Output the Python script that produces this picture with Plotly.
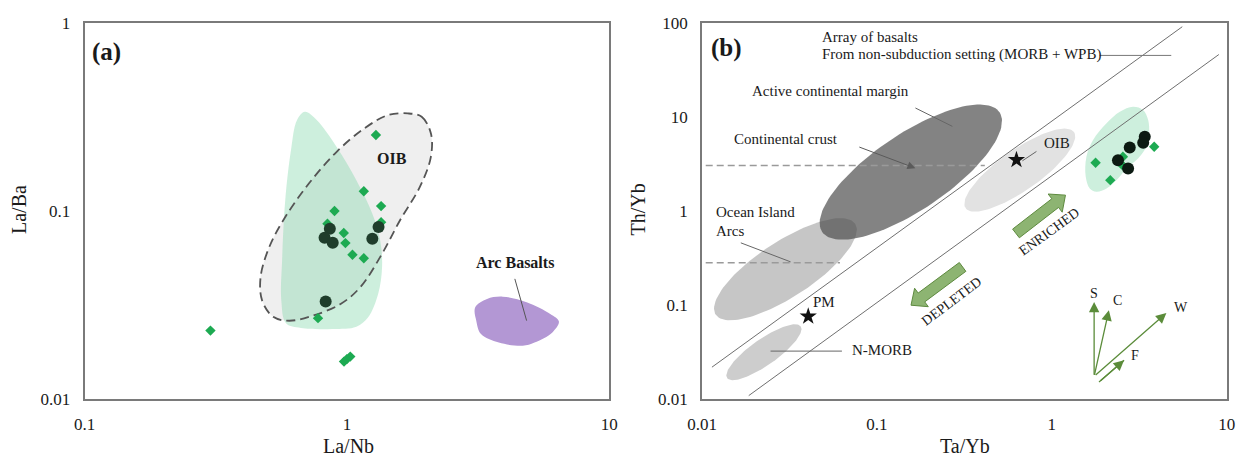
import numpy as np
import plotly.graph_objects as go

FONT = "Liberation Serif"
W, H = 1241, 459
TXT = "#1a1a1a"

# ---------------- Panel (a): La/Nb vs La/Ba ----------------
a_black_x = [0.861, 0.822, 0.883, 1.32, 1.25, 0.83]
a_black_y = [0.0804, 0.0719, 0.0676, 0.082, 0.071, 0.033]
a_green_x = [1.29, 1.16, 1.35, 0.897, 0.843, 1.35, 0.973, 0.987, 1.05, 1.16, 0.776, 0.302, 0.975, 1.0, 1.03]
a_green_y = [0.253, 0.127, 0.106, 0.0998, 0.0855, 0.0871, 0.0762, 0.0674, 0.0584, 0.056, 0.0269, 0.0231, 0.0158, 0.0163, 0.0168]

# field outlines (log10 units)
a_sample_field_lx = [-0.160, -0.115, -0.039, 0.036, 0.097, 0.127, 0.134, 0.119, 0.081, 0.036, -0.054, -0.175, -0.232, -0.250, -0.247, -0.235, -0.213, -0.190, -0.160]
a_sample_field_ly = [-0.473, -0.517, -0.660, -0.837, -1.015, -1.157, -1.300, -1.442, -1.566, -1.616, -1.628, -1.623, -1.598, -1.477, -1.264, -0.944, -0.677, -0.517, -0.473]
a_oib_field_lx = [0.232, 0.285, 0.320, 0.320, 0.278, 0.202, 0.134, 0.051, -0.024, -0.130, -0.220, -0.281, -0.323, -0.329, -0.296, -0.235, -0.145, -0.039, 0.066, 0.157, 0.232]
a_oib_field_ly = [-0.482, -0.500, -0.588, -0.713, -0.873, -1.051, -1.228, -1.406, -1.495, -1.557, -1.584, -1.563, -1.477, -1.353, -1.193, -1.033, -0.855, -0.686, -0.562, -0.491, -0.482]
a_arc_field_lx = [0.489, 0.534, 0.594, 0.685, 0.775, 0.808, 0.783, 0.715, 0.670, 0.579, 0.511, 0.493, 0.489]
a_arc_field_ly = [-1.513, -1.468, -1.456, -1.486, -1.548, -1.588, -1.646, -1.700, -1.717, -1.700, -1.655, -1.584, -1.513]

a_ticks_x = [0.1, 1, 10]
a_ticks_y = [0.01, 0.1, 1]

# ---------------- Panel (b): Ta/Yb vs Th/Yb ----------------
b_black_x = [3.40, 3.33, 2.79, 2.39, 2.73]
b_black_y = [6.12, 5.29, 4.72, 3.46, 2.82]
b_green_x = [3.85, 1.78, 2.55, 2.53, 2.16]
b_green_y = [4.80, 3.25, 3.76, 3.06, 2.12]

b_sample_field_lx = [0.198, 0.236, 0.313, 0.389, 0.465, 0.522, 0.551, 0.556, 0.541, 0.493, 0.427, 0.370, 0.313, 0.255, 0.217, 0.194, 0.198]
b_sample_field_ly = [0.574, 0.752, 0.930, 1.053, 1.106, 1.071, 0.965, 0.823, 0.681, 0.557, 0.451, 0.327, 0.238, 0.202, 0.238, 0.362, 0.574]

# reference fields as ellipses in log10 space: centre, conjugate semi-axes
ellipse_names = ["Ocean Island Arcs", "N-MORB", "OIB", "Active continental margin"]
ellipse_centre = [(-1.523, -0.620), (-1.646, -1.503), (-0.183, 0.433), (-0.806, 0.412)]
ellipse_u = [(0.399, 0.483), (0.2106, 0.2748), (0.3098, 0.4042), (0.507, 0.636)]
ellipse_v = [(-0.0866, 0.248), (-0.0426, 0.1133), (-0.0669, 0.1777), (-0.121, 0.335)]
ellipse_fill = ["rgba(198,198,198,1)", "rgba(205,205,205,1)", "rgba(226,226,226,1)", "rgba(78,78,78,0.70)"]

array_upper_x = [0.0114, 5.57]
array_upper_y = [0.0218, 90.6]
array_lower_x = [0.0185, 9.02]
array_lower_y = [0.01086, 45.9]
crust_dash_x = [0.0105, 0.414]
crust_dash_y = [3.03, 3.03]
arc_dash_x = [0.0105, 0.0615]
arc_dash_y = [0.28, 0.28]

star_x = [0.0405, 0.628]
star_y = [0.0755, 3.48]

enriched_tail, enriched_tip = (0.624, 0.575), (1.197, 1.469)
depleted_tail, depleted_tip = (0.309, 0.2535), (0.1567, 0.0993)

vec_origin = (1.746, 0.01742)
vec_names = ["S", "C", "W"]
vec_tips = [(1.746, 0.1076), (2.12, 0.0879), (4.52, 0.0822)]
vec_label_pos = [(1.738, 0.132), (2.36, 0.1104), (5.51, 0.0938)]
f_tail, f_tip = (1.862, 0.01517), (2.59, 0.0258)
f_label_pos = (2.98, 0.0292)

b_ticks_x = [0.01, 0.1, 1, 10]
b_ticks_y = [0.01, 0.1, 1, 10, 100]

# ---------------- layout geometry ----------------
A_DOM = [84.5 / W, 609.3 / W]
B_DOM = [702.0 / W, 1226.7 / W]
Y_DOM = [60.0 / H, (H - 22.7) / H]
KX_B = (B_DOM[1] - B_DOM[0]) * W / 3.0   # px per decade
KY_B = (Y_DOM[1] - Y_DOM[0]) * H / 4.0

fig = go.Figure()

def poly(lx, ly, xa, ya, fill, line=None, dash=None, width=1, spline=True, fillon=True):
    fig.add_trace(go.Scatter(
        x=10 ** np.array(lx), y=10 ** np.array(ly), xaxis=xa, yaxis=ya,
        mode="lines", fill="toself" if fillon else None, fillcolor=fill,
        line=dict(color=line if line else "rgba(0,0,0,0)", width=width, dash=dash,
                  shape="spline" if spline else "linear", smoothing=1.0),
        hoverinfo="skip", showlegend=False))

def seg(xs, ys, xa, ya, color="#6a6a6a", width=1, dash=None):
    fig.add_trace(go.Scatter(x=xs, y=ys, xaxis=xa, yaxis=ya, mode="lines",
                             line=dict(color=color, width=width, dash=dash),
                             hoverinfo="skip", showlegend=False))

# ---- panel (a) fields
poly(a_oib_field_lx, a_oib_field_ly, "x", "y", "#efefef")
poly(a_sample_field_lx, a_sample_field_ly, "x", "y", "rgba(130,215,170,0.40)")
poly(a_oib_field_lx, a_oib_field_ly, "x", "y", None, line="#555555", dash="9px,5px", width=1.8, fillon=False)
poly(a_arc_field_lx, a_arc_field_ly, "x", "y", "#b397d4")
seg([4.365, 4.84], [0.0435, 0.0261], "x", "y", color="#555555")

fig.add_trace(go.Scatter(x=a_green_x, y=a_green_y, mode="markers", xaxis="x", yaxis="y",
                         marker=dict(symbol="diamond", size=8, color="#1daa52"), showlegend=False))
fig.add_trace(go.Scatter(x=a_black_x, y=a_black_y, mode="markers", xaxis="x", yaxis="y",
                         marker=dict(symbol="circle", size=12, color="#1f3d2b"), showlegend=False))

# ---- panel (b) fields
t = np.linspace(0, 2 * np.pi, 121)
for c, u, v, f in zip(ellipse_centre, ellipse_u, ellipse_v, ellipse_fill):
    lx = c[0] + u[0] * np.cos(t) + v[0] * np.sin(t)
    ly = c[1] + u[1] * np.cos(t) + v[1] * np.sin(t)
    poly(lx, ly, "x2", "y2", f, spline=False)

poly(b_sample_field_lx, b_sample_field_ly, "x2", "y2", "rgba(130,215,170,0.40)")

seg(array_upper_x, array_upper_y, "x2", "y2", color="#6f6f6f", width=1)
seg(array_lower_x, array_lower_y, "x2", "y2", color="#6f6f6f", width=1)
seg(crust_dash_x, crust_dash_y, "x2", "y2", color="#9a9a9a", width=1.5, dash="7px,4px")
seg(arc_dash_x, arc_dash_y, "x2", "y2", color="#9a9a9a", width=1.5, dash="7px,4px")

# leader lines (b)
seg([1.879, 4.82], [44.9, 44.9], "x2", "y2", color="#777777")
seg([0.166, 0.270], [12.4, 7.91], "x2", "y2", color="#666666")
seg([0.01667, 0.0321], [0.457, 0.287], "x2", "y2", color="#666666")
seg([0.02466, 0.0631], [0.0323, 0.0323], "x2", "y2", color="#666666")
seg([0.679, 0.817], [3.40, 4.28], "x2", "y2", color="#666666")

def block_arrow(tail, tip, w=5.5, hw=11.5, hl=13):
    p0 = np.array([np.log10(tail[0]) * KX_B, np.log10(tail[1]) * KY_B])
    p1 = np.array([np.log10(tip[0]) * KX_B, np.log10(tip[1]) * KY_B])
    d = (p1 - p0) / np.linalg.norm(p1 - p0)
    n = np.array([-d[1], d[0]])
    neck = p1 - d * hl
    pts = [p0 + n * w, neck + n * w, neck + n * hw, p1, neck - n * hw, neck - n * w, p0 - n * w, p0 + n * w]
    pts = np.array(pts)
    return list(pts[:, 0] / KX_B), list(pts[:, 1] / KY_B)

for tl, tp in [(enriched_tail, enriched_tip), (depleted_tail, depleted_tip)]:
    lx, ly = block_arrow(tl, tp)
    poly(lx, ly, "x2", "y2", "#8db472", line="#5e8a3f", width=1, spline=False)

fig.add_trace(go.Scatter(x=b_green_x, y=b_green_y, mode="markers", xaxis="x2", yaxis="y2",
                         marker=dict(symbol="diamond", size=8, color="#1daa52"), showlegend=False))
fig.add_trace(go.Scatter(x=b_black_x, y=b_black_y, mode="markers", xaxis="x2", yaxis="y2",
                         marker=dict(symbol="circle", size=12, color="#0c1a12"), showlegend=False))
fig.add_trace(go.Scatter(x=star_x, y=star_y, mode="markers", xaxis="x2", yaxis="y2",
                         marker=dict(symbol="star", size=13, color="#111111"), showlegend=False))
seg([f_tail[0], f_tip[0]], [f_tail[1], f_tip[1]], "x2", "y2", color="#5b8c3a", width=1.3)

# ---------------- annotations ----------------
L = np.log10
ann = []

def txt(x, y, s, xr, yr, size=15, bold=False, xanchor="center", angle=0):
    ann.append(dict(x=L(x), y=L(y), xref=xr, yref=yr, text=("<b>%s</b>" % s) if bold else s,
                    showarrow=False, xanchor=xanchor, yanchor="middle", textangle=angle,
                    font=dict(family=FONT, size=size, color=TXT)))

txt(0.105, 0.703, "(a)", "x", "y", size=25, bold=True, xanchor="left")
txt(1.486, 0.190, "OIB", "x", "y", size=16, bold=True)
txt(4.365, 0.0533, "Arc Basalts", "x", "y", size=16, bold=True)

txt(0.01096, 54.1, "(b)", "x2", "y2", size=25, bold=True, xanchor="left")
txt(0.0474, 71.0, "Array of basalts", "x2", "y2", xanchor="left")
txt(0.0474, 45.9, "From non-subduction setting (MORB + WPB)", "x2", "y2", xanchor="left")
txt(0.0188, 18.97, "Active continental margin", "x2", "y2", xanchor="left")
txt(0.01479, 5.79, "Continental crust", "x2", "y2", xanchor="left")
txt(0.01175, 0.964, "Ocean Island", "x2", "y2", xanchor="left")
txt(0.01175, 0.614, "Arcs", "x2", "y2", xanchor="left")
txt(0.0499, 0.1074, "PM", "x2", "y2")
txt(0.0702, 0.0328, "N-MORB", "x2", "y2", xanchor="left")
txt(1.069, 5.25, "OIB", "x2", "y2")
txt(0.971, 0.598, "ENRICHED", "x2", "y2", size=14, angle=-36)
txt(0.266, 0.110, "DEPLETED", "x2", "y2", size=14, angle=-37)
for nm, p in zip(vec_names, vec_label_pos):
    txt(p[0], p[1], nm, "x2", "y2", size=14)
txt(f_label_pos[0], f_label_pos[1], "F", "x2", "y2", size=14)

# arrows
ann.append(dict(x=L(0.166), y=L(2.84), ax=L(0.0778), ay=L(4.83), xref="x2", yref="y2",
                axref="x2", ayref="y2", text="", showarrow=True, arrowhead=2, arrowsize=1.6,
                arrowwidth=1, arrowcolor="#5a5a5a"))
for tp in vec_tips:
    ann.append(dict(x=L(tp[0]), y=L(tp[1]), ax=L(vec_origin[0]), ay=L(vec_origin[1]),
                    xref="x2", yref="y2", axref="x2", ayref="y2", text="", showarrow=True,
                    arrowhead=2, arrowsize=1.6, arrowwidth=1.3, arrowcolor="#5b8c3a"))
ann.append(dict(x=L(f_tip[0]), y=L(f_tip[1]), ax=L(f_tail[0]), ay=L(f_tail[1]),
                xref="x2", yref="y2", axref="x2", ayref="y2", text="", showarrow=True,
                arrowhead=2, arrowsize=1.6, arrowwidth=1.3, arrowcolor="#5b8c3a"))

# axis titles (paper coords)
def ptxt(px, py, s, size=20, angle=0):
    ann.append(dict(x=px / W, y=1 - py / H, xref="paper", yref="paper", text=s, showarrow=False,
                    xanchor="center", yanchor="middle", textangle=angle,
                    font=dict(family=FONT, size=size, color=TXT)))

ptxt(348.6, 445.5, "La/Nb")
ptxt(19, 210, "La/Ba", angle=-90)
ptxt(964.7, 445.5, "Ta/Yb")
ptxt(637.5, 210, "Th/Yb", angle=-90)

axis_common = dict(type="log", showgrid=False, zeroline=False, showline=True, mirror=True,
                   linecolor="#7a7a7a", linewidth=1.5, ticks="", ticklabelstandoff=9,
                   automargin=False, tickfont=dict(family=FONT, size=17, color=TXT))

fig.update_layout(
    width=W, height=H, margin=dict(l=0, r=0, t=0, b=0, autoexpand=False),
    paper_bgcolor="white", plot_bgcolor="white", showlegend=False,
    xaxis=dict(axis_common, domain=A_DOM, range=[-1, 1], tickvals=a_ticks_x,
               ticktext=[str(v) for v in a_ticks_x], anchor="y"),
    yaxis=dict(axis_common, domain=Y_DOM, range=[-2, 0], tickvals=a_ticks_y,
               ticktext=[str(v) for v in a_ticks_y], anchor="x"),
    xaxis2=dict(axis_common, domain=B_DOM, range=[-2, 1], tickvals=b_ticks_x,
                ticktext=[str(v) for v in b_ticks_x], anchor="y2"),
    yaxis2=dict(axis_common, domain=Y_DOM, range=[-2, 2], tickvals=b_ticks_y,
                ticktext=[str(v) for v in b_ticks_y], anchor="x2"),
    annotations=ann,
)

fig.write_html("out.html")
